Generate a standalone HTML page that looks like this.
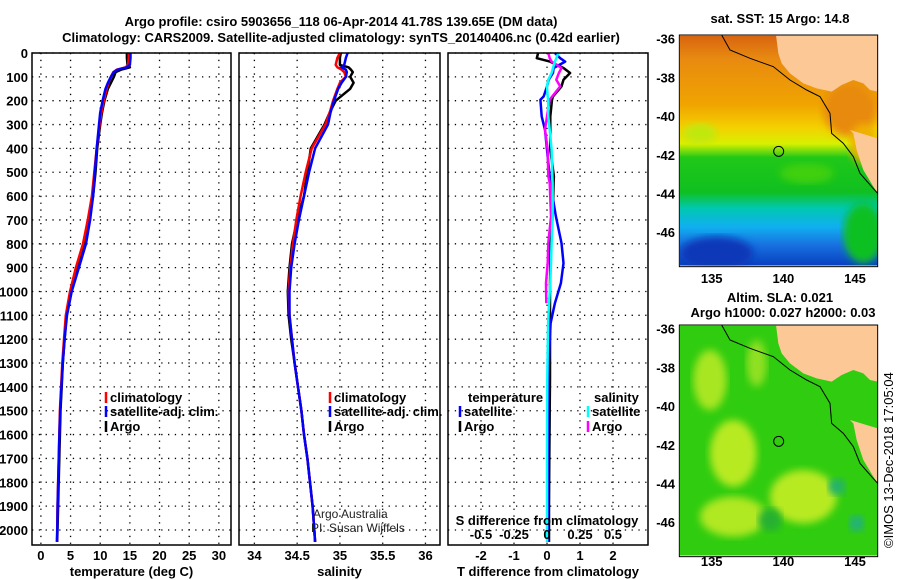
<!DOCTYPE html>
<html><head><meta charset="utf-8">
<style>
body{margin:0;background:#fff;}
svg{display:block;font-family:"Liberation Sans",Arial,sans-serif;}
.b{font-weight:bold;font-size:13px;}
</style></head>
<body>
<svg id="c" width="900" height="580" viewBox="0 0 900 580">
<text x="341" y="26" text-anchor="middle" class="b" font-size="14">Argo profile: csiro 5903656_118 06-Apr-2014 41.78S 139.65E (DM data)</text>
<text x="341" y="42" text-anchor="middle" class="b" font-size="14">Climatology: CARS2009. Satellite-adjusted climatology: synTS_20140406.nc (0.42d earlier)</text>
<g id="plots"></g>
<defs>
<linearGradient id="sstg" x1="0" y1="0" x2="0" y2="1">
<stop offset="0" stop-color="#d86410"/><stop offset="0.1" stop-color="#e88a10"/><stop offset="0.3" stop-color="#f0a400"/>
<stop offset="0.4" stop-color="#f4d000"/><stop offset="0.47" stop-color="#d8f000"/><stop offset="0.53" stop-color="#20c818"/>
<stop offset="0.68" stop-color="#10c020"/><stop offset="0.75" stop-color="#00c8b0"/><stop offset="0.83" stop-color="#10b0f0"/>
<stop offset="0.91" stop-color="#1870e0"/><stop offset="1" stop-color="#0840c0"/>
</linearGradient>
<filter id="blur"><feGaussianBlur stdDeviation="12"/></filter>
<clipPath id="mclip"><rect x="90" y="107" width="592" height="690"/></clipPath>
</defs>
<g>
<svg x="650" y="0" width="250" height="300" viewBox="0 0 750 900">
<g clip-path="url(#mclip)">
<rect x="90" y="107" width="592" height="690" fill="url(#sstg)"/>
<ellipse cx="600" cy="330" rx="80" ry="80" fill="#e88a10" filter="url(#blur)"/>
<ellipse cx="640" cy="430" rx="40" ry="60" fill="#f0b000" filter="url(#blur)"/>
<ellipse cx="640" cy="700" rx="60" ry="90" fill="#10c020" filter="url(#blur)"/>
<ellipse cx="150" cy="400" rx="50" ry="30" fill="#c0e810" filter="url(#blur)"/>
<ellipse cx="470" cy="520" rx="80" ry="30" fill="#40d010" filter="url(#blur)"/>
<ellipse cx="200" cy="760" rx="110" ry="50" fill="#0838b8" filter="url(#blur)"/>
</g>
<polygon points="378,105,683,105,683,275,660,270,640,250,610,240,575,255,545,275,500,265,460,250,420,220,395,190,385,160" fill="#fcc896"/>
<polygon points="683,415,600,390,610,400,620,450,640,510,670,560,683,580" fill="#fcc896"/>
<polyline points="215,105,240,150,300,175,370,200,420,240,470,270,510,290,540,340,545,400,580,430,610,470,630,520,665,560,683,580" fill="none" stroke="#000" stroke-width="3"/>
<circle cx="386" cy="454" r="15" fill="none" stroke="#000" stroke-width="3"/>
<rect x="88" y="105" width="595" height="695" fill="none" stroke="#000" stroke-width="3"/>
</svg>
</g>
<g>
<svg x="650" y="290" width="250" height="290" viewBox="0 0 750 870">
<g clip-path="url(#mclip)">
<rect x="90" y="107" width="592" height="690" fill="#30cc10"/>
<ellipse cx="180" cy="270" rx="50" ry="90" fill="#a8e620" filter="url(#blur)"/>
<ellipse cx="250" cy="490" rx="70" ry="100" fill="#b8ea20" filter="url(#blur)"/>
<ellipse cx="250" cy="680" rx="100" ry="60" fill="#b0e820" filter="url(#blur)"/>
<ellipse cx="460" cy="620" rx="100" ry="80" fill="#b8ea20" filter="url(#blur)"/>
<ellipse cx="320" cy="220" rx="30" ry="70" fill="#90e020" filter="url(#blur)"/>
<ellipse cx="560" cy="590" rx="25" ry="25" fill="#20b070" filter="url(#blur)"/>
<ellipse cx="620" cy="700" rx="22" ry="25" fill="#20b080" filter="url(#blur)"/>
<ellipse cx="360" cy="690" rx="35" ry="35" fill="#28b030" filter="url(#blur)"/>
</g>
<polygon points="378,105,683,105,683,275,660,270,640,250,610,240,575,255,545,275,500,265,460,250,420,220,395,190,385,160" fill="#fcc896"/>
<polygon points="683,415,600,390,610,400,620,450,640,510,670,560,683,580" fill="#fcc896"/>
<polyline points="215,105,240,150,300,175,370,200,420,240,470,270,510,290,540,340,545,400,580,430,610,470,630,520,665,560,683,580" fill="none" stroke="#000" stroke-width="3"/>
<circle cx="386" cy="454" r="15" fill="none" stroke="#000" stroke-width="3"/>
<rect x="88" y="105" width="595" height="695" fill="none" stroke="#000" stroke-width="3"/>
</svg>
</g>
<text x="780" y="23" text-anchor="middle" class="b">sat. SST: 15 Argo: 14.8</text>
<text x="780" y="302" text-anchor="middle" class="b">Altim. SLA: 0.021</text>
<text x="783" y="317" text-anchor="middle" class="b">Argo h1000: 0.027 h2000: 0.03</text>
<text transform="translate(893,548) rotate(-90)" font-size="13">©IMOS 13-Dec-2018 17:05:04</text>
<g id="maplabels"></g>
</svg>
<script>
// ---- data ----
const depths=[0,20,50,60,70,80,100,125,150,200,250,300,400,500,600,700,800,900,1000,1100,1200,1300,1400,1500,1600,1700,1800,1900,2000,2050];
const climT=[14.8,14.8,14.7,14.3,12.8,12.2,11.8,11.4,11.1,10.6,10.2,9.9,9.4,9.0,8.6,7.9,7.1,5.9,4.9,4.2,3.9,3.6,3.4,3.2,3.1,3.0,2.9,2.8,2.75,2.7];
const satT=[15.1,15.1,15.0,14.5,12.9,12.3,11.8,11.3,10.9,10.4,10.0,9.8,9.4,9.1,8.8,8.3,7.6,6.4,5.2,4.4,4.0,3.7,3.45,3.25,3.12,3.02,2.92,2.82,2.77,2.72];
const argoT=[14.5,14.5,14.6,15.0,13.5,12.6,12.3,11.8,11.3,10.7,10.3,10.0,9.5,9.2,8.8,8.0,7.2,6.0,5.0,4.3,4.0,3.7,3.5,3.3,3.2,3.1,3.0,2.9,2.8,2.75];
const climS=[35.0,34.97,34.95,34.97,35.02,35.05,35.07,35.0,34.97,34.92,34.88,34.83,34.67,34.6,34.54,34.49,34.45,34.42,34.4,34.41,34.44,34.47,34.51,34.55,34.58,34.62,34.65,34.68,34.7,34.71];
const satS=[35.09,35.07,35.05,35.02,35.07,35.08,35.07,35.02,34.98,34.93,34.89,34.86,34.71,34.64,34.58,34.52,34.47,34.43,34.41,34.41,34.44,34.47,34.51,34.55,34.58,34.62,34.65,34.68,34.7,34.71];
const argoS=[35.01,35.0,35.0,35.1,35.13,35.15,35.12,35.16,35.12,34.95,34.88,34.82,34.66,34.62,34.58,34.5,34.44,34.41,34.39,34.4,34.43,34.47,34.51,34.55,34.58,34.62,34.65,34.68,34.7,34.71];
const diffDepths=[0,22,36,63,84,112,140,182,196,266,322,406,517,545,685,797,881,965,1049,1133,1245,1364,1500,1700,1900,2050];
const satTdiff=[0.24,0.4,0.55,0.2,0.18,0.05,0,-0.1,-0.2,-0.16,-0.06,0,0.08,0.1,0.27,0.44,0.5,0.42,0.24,0.11,0.07,0.04,0.03,0.02,0.02,0.02];
const argoTdiff=[-0.27,-0.31,0.09,0.5,0.7,0.5,0.44,0.18,0.15,0.1,0.1,0.1,0.21,0.2,0.17,0.11,0.1,0.09,0.09,0.09,0.09,0.09,0.08,0.07,0.06,0.06];
const argoSdiff=[0.01,0.02,0.035,0.11,0.09,0.07,0.1,0.04,0.02,0,-0.015,0.005,0.01,0.02,0.03,0.01,0.005,-0.008,-0.005];
const satSdiff=[0.086,0.07,0.06,0.045,0.035,0.01,0,0.005,0.008,0.01,0.02,0.035,0.04,0.042,0.043,0.035,0.03,0.025,0.015,0.008,0.005,0.002,0.001,0,0,0];
const yTicks=[0,100,200,300,400,500,600,700,800,900,1000,1100,1200,1300,1400,1500,1600,1700,1800,1900,2000];
const tTicks=[0,5,10,15,20,25,30];
const sTicks=[34,34.5,35,35.5,36];
const dTicks=[-2,-1,0,1,2];
const dSTickLabels=["-0.5","-0.25","0","0.25","0.5"];
const latTicks=[-36,-38,-40,-42,-44,-46];
const lonTicks=[135,140,145];

const NS="http://www.w3.org/2000/svg";
const root=document.getElementById('plots');
function mk(tag,attrs,parent){const e=document.createElementNS(NS,tag);for(const k in attrs)e.setAttribute(k,attrs[k]);(parent||root).appendChild(e);return e;}
const top0=53,bot=545,dMax=2063;
function yS(d){return top0+(d/dMax)*(bot-top0);}
const panels=[
 {name:'temperature',x0:32,x1:231,v0:-1.5,v1:32.05,ticks:tTicks,labels:tTicks.map(String),title:'temperature (deg C)'},
 {name:'salinity',x0:239,x1:440,v0:33.82,v1:36.17,ticks:sTicks,labels:sTicks.map(String),title:'salinity'},
 {name:'difference',x0:448,x1:648,v0:-3,v1:3.06,ticks:dTicks,labels:dTicks.map(String),title:'T difference from climatology'}
];
panels.forEach(p=>{p.xS=v=>p.x0+(v-p.v0)/(p.v1-p.v0)*(p.x1-p.x0);});
panels.forEach((p,i)=>{
 const g=mk('g',{});
 
 
 p.ticks.forEach((t,j)=>{
  const x=p.xS(t);
  const l=mk('line',{x1:x,x2:x,y1:top0,y2:bot,stroke:'#000','stroke-width':1.3,'stroke-dasharray':'1.3,5.5'},g);
  
  
  const tx=mk('text',{x:x,y:560,'text-anchor':'middle',class:'b'},g);
  
  
  tx.textContent=p.labels[j];
 });
 yTicks.forEach(d=>{
  const y=yS(d);
  const l=mk('line',{x1:p.x0,x2:p.x1,y1:y,y2:y,stroke:'#000','stroke-width':1.3,'stroke-dasharray':'1.3,5.5'},g);
  
  
  if(i===0){
   const tx=mk('text',{x:28,y:y+5,'text-anchor':'end',class:'b'},g);
   
   
   tx.textContent=d;
  }
 });
 const at=mk('text',{x:(p.x0+p.x1)/2,y:576,'text-anchor':'middle',class:'b'},g);
 
 
 at.textContent=p.title;
 p.g=g;
});
function line(p,vals,ds,color,name,w,scale){
 const pts=vals.map((v,k)=>p.xS(v*(scale||1)).toFixed(1)+','+yS(ds[k]).toFixed(1)).join(' ');
 const pl=mk('polyline',{points:pts,fill:'none',stroke:color,'stroke-width':w||2.5,'stroke-linejoin':'round'},p.g);
 
 
}
line(panels[0],argoT,depths,'#000','argo-temperature-line');
line(panels[0],climT,depths,'#f00','climatology-temperature-line');
line(panels[0],satT,depths,'#00f','satellite-temperature-line');
line(panels[1],argoS,depths,'#000','argo-salinity-line');
line(panels[1],climS,depths,'#f00','climatology-salinity-line');
line(panels[1],satS,depths,'#00f','satellite-salinity-line');
line(panels[2],argoTdiff,diffDepths,'#000','argo-t-diff-line');
line(panels[2],satTdiff,diffDepths,'#00f','satellite-t-diff-line');
line(panels[2],argoSdiff,diffDepths.slice(0,argoSdiff.length),'#f0f','argo-s-diff-line',2.5,4);
line(panels[2],satSdiff,diffDepths,'#0ff','satellite-s-diff-line',2.5,4);
const p3=panels[2];
dTicks.forEach((t,j)=>{
 const tx=mk('text',{x:p3.xS(t),y:539,'text-anchor':'middle',class:'b'},p3.g);
 
 
 tx.textContent=dSTickLabels[j];
});
const st=mk('text',{x:547,y:525,'text-anchor':'middle',class:'b'},p3.g);


st.textContent='S difference from climatology';
panels.forEach(p=>{
 const r=mk('rect',{x:p.x0,y:top0,width:p.x1-p.x0,height:bot-top0,fill:'none',stroke:'#000','stroke-width':1.5},p.g);
 
 
});
function leg(g,x,y,color,label,name){
 const l=mk('line',{x1:x,x2:x,y1:y-10,y2:y+1,stroke:color,'stroke-width':2.5},g);
 
 
 const t=mk('text',{x:x+4,y:y,class:'b'},g);
 
 
 t.textContent=label;
}
[[panels[0],106],[panels[1],330]].forEach(([p,x])=>{
 leg(p.g,x,402,'#f00','climatology','legend-climatology');
 leg(p.g,x,416,'#00f','satellite-adj. clim.','legend-satellite-adj');
 leg(p.g,x,431,'#000','Argo','legend-argo');
});
const th=mk('text',{x:468,y:402,class:'b'},p3.g);


th.textContent='temperature';
leg(p3.g,460,416,'#00f','satellite','legend-t-satellite');
leg(p3.g,460,431,'#000','Argo','legend-t-argo');
const sh=mk('text',{x:594,y:402,class:'b'},p3.g);


sh.textContent='salinity';
leg(p3.g,588,416,'#0ff','satellite','legend-s-satellite');
leg(p3.g,588,431,'#f0f','Argo','legend-s-argo');
const a1=mk('text',{x:313,y:518,'font-size':12,fill:'#222'},panels[1].g);


a1.textContent='Argo Australia';
const a2=mk('text',{x:311,y:532,'font-size':12,fill:'#222'},panels[1].g);


a2.textContent='PI: Susan Wijffels';
const ml=document.getElementById('maplabels');
[[0,283],[290,566]].forEach(([off,ly])=>{
 latTicks.forEach(la=>{
  const y=off+38.7+(-36-la)*19.35;
  const t=mk('text',{x:675,y:y+5,'text-anchor':'end',class:'b'},ml);
  
  
  t.textContent=la;
 });
 lonTicks.forEach(lo=>{
  const x=711.7+(lo-135)*14.33;
  const t=mk('text',{x:x,y:ly,'text-anchor':'middle',class:'b'},ml);
  
  
  t.textContent=lo;
 });
});
</script>
</body></html>
